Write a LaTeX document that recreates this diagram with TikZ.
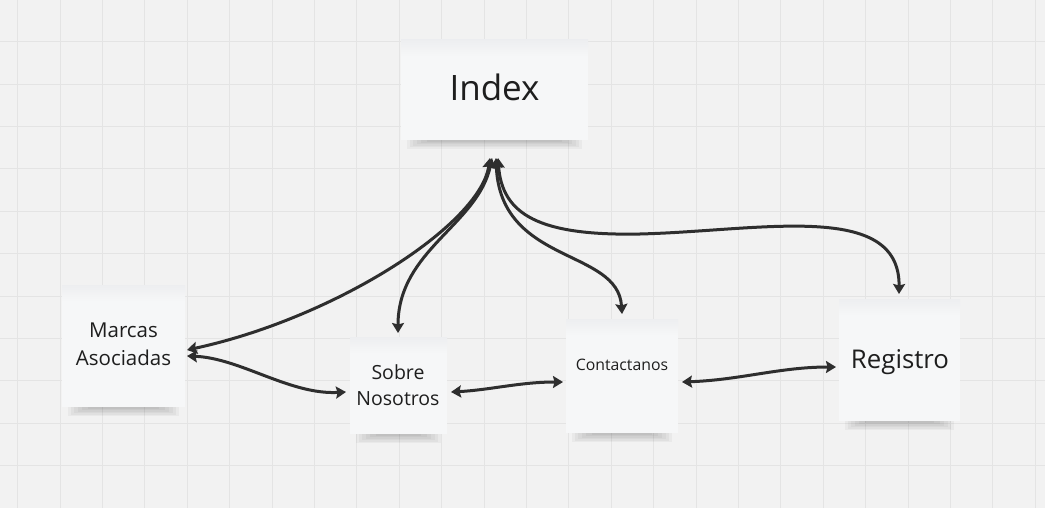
\documentclass[tikz,border=0pt]{standalone}
\usepackage{fontspec}
\setmainfont{Open Sans}
\usetikzlibrary{arrows.meta}
\definecolor{bgcol}{HTML}{F2F2F2}
\definecolor{gridcol}{HTML}{E4E4E4}
\definecolor{notefill}{HTML}{F6F7F8}
\definecolor{notetop}{HTML}{EDEEF0}
\definecolor{arrowcol}{HTML}{2E2E2E}
\definecolor{textcol}{HTML}{1E1E1E}
\tikzset{
  notebox/.style={fill=notefill, draw=none, inner sep=0pt, outer sep=0pt},
  lbl/.style={text=textcol, anchor=base, align=center, inner sep=0pt},
  conn/.style={draw=arrowcol, line width=3pt,
    {Stealth[length=10pt,width=12pt,inset=1.5pt]}-{Stealth[length=10pt,width=12pt,inset=1.5pt]}},
  shade1/.style={fill=black, opacity=0.035, draw=none},
}
\newcommand{\stickynote}[6]{% name, left, top, right, bottom, dummy
  \fill[shade1] (#2+6,#5-2) rectangle (#4-6,#5+9);
  \fill[shade1] (#2+9,#5-2) rectangle (#4-9,#5+7.5);
  \fill[shade1] (#2+12,#5-2) rectangle (#4-12,#5+6);
  \fill[shade1] (#2+16,#5-2) rectangle (#4-16,#5+4.5);
  \fill[shade1] (#2+20,#5-2) rectangle (#4-20,#5+3);
  \fill[shade1] (#2+26,#5-2) rectangle (#4-26,#5+2);
  \node[notebox, minimum width=#4-#2, minimum height=#5-#3] (#1) at ({(#2+#4)/2},{(#3+#5)/2}) {};
  \shade[top color=notetop, bottom color=notefill] (#2,#3) rectangle (#4,#3+16);
}
\begin{document}
\begin{tikzpicture}[x=1pt,y=-1pt]
\useasboundingbox (0,0) rectangle (1045,508);
\fill[bgcol] (0,0) rectangle (1045,508);
% grid
\foreach \k in {0,...,24} {
  \draw[gridcol, line width=1.1pt] ({17.7+42.4*\k},0) -- ({17.7+42.4*\k},508);
}
\foreach \k in {1,...,11} {
  \draw[gridcol, line width=1.1pt] (0,{-0.7+42.4*\k}) -- (1045,{-0.7+42.4*\k});
}
% notes
\stickynote{index}{401}{40}{588}{140}{}
\stickynote{marcas}{62}{285}{185}{407}{}
\stickynote{sobre}{350}{337}{447}{434}{}
\stickynote{contact}{566}{319}{678}{433}{}
\stickynote{registro}{839}{299}{960}{421}{}
% labels
\node[lbl, font=\fontsize{35}{40}\selectfont] (indexlbl) at (494.5,101) {Index};
\node[lbl, font=\fontsize{20.5}{28}\selectfont] (marcaslbl) at (123.5,365) {Marcas\\Asociadas};
\node[lbl, font=\fontsize{19.5}{26}\selectfont] (sobrelbl) at (398,405) {Sobre\\Nosotros};
\node[lbl, font=\fontsize{15.8}{20}\selectfont] (contactlbl) at (622,370.5) {Contactanos};
\node[lbl, font=\fontsize{25.8}{30}\selectfont] (registrolbl) at (900,368) {Registro};
% connector end points
\coordinate (iM) at (490,158);
\coordinate (iS) at (492,158);
\coordinate (iC) at (496,158);
\coordinate (iR) at (498,158);
\coordinate (mT) at (187,350);
\coordinate (mB) at (187,356);
\coordinate (sT) at (398,333);
\coordinate (sL) at (346,392);
\coordinate (sR) at (451,392);
\coordinate (cT) at (622,314);
\coordinate (cL) at (563,382);
\coordinate (cR) at (682,382);
\coordinate (rT) at (899,294);
\coordinate (rL) at (836,367);
% connectors
\draw[conn] (iM) .. controls (480,225) and (335,318) .. (mT);
\draw[conn] (iS) .. controls (478,225) and (398,250) .. (sT);
\draw[conn] (iC) .. controls (500,265) and (618,248) .. (cT);
\draw[conn] (iR) .. controls (502,215) and (540,236) .. (640,234)
  .. controls (760,231) and (900,200) .. (rT);
\draw[conn] (mB) .. controls (240,358) and (290,395) .. (sL);
\draw[conn] (sR) .. controls (490,390) and (520,382) .. (cL);
\draw[conn] (cR) .. controls (740,380) and (780,367) .. (rL);
\end{tikzpicture}
\end{document}
